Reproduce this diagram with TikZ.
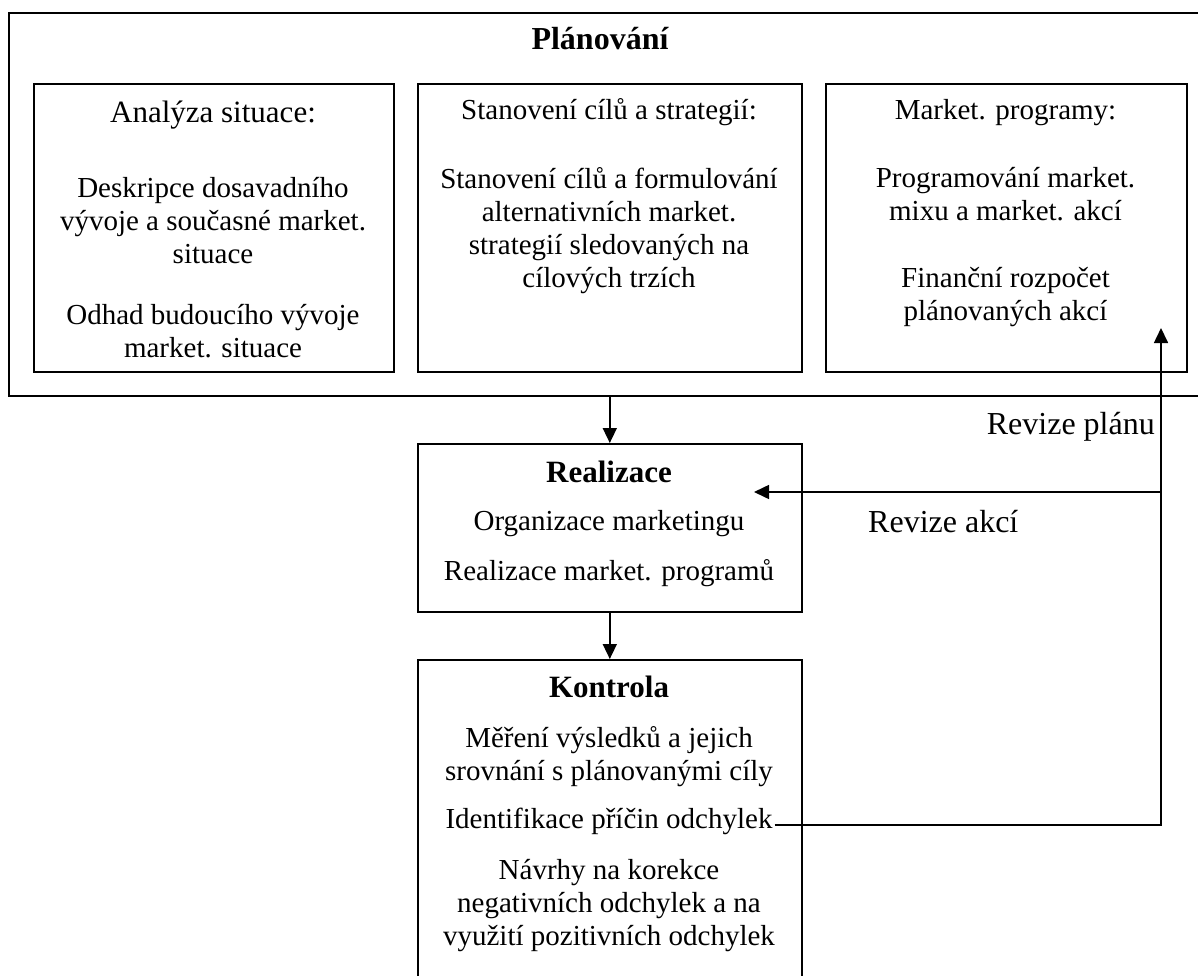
\documentclass[tikz,border=0pt]{standalone}
\usepackage{fontspec}
\setmainfont{Liberation Serif}
\usetikzlibrary{arrows.meta, positioning, calc}

\begin{document}
\begin{tikzpicture}[x=1pt, y=-1pt,
    ramec/.style={draw, line width=1.6pt, inner sep=0pt, anchor=north west},
    popis/.style={align=center, inner sep=0pt, anchor=north, font=\fontsize{29pt}{33pt}\selectfont},
    hlava/.style={inner sep=0pt, anchor=base, font=\fontsize{29pt}{33pt}\selectfont},
    nadpis/.style={inner sep=0pt, anchor=base, font=\fontsize{31pt}{33pt}\selectfont\bfseries},
    sipka/.style={line width=1.6pt, -{Triangle[length=15pt, width=14pt]}}]
    \useasboundingbox (0,0) rectangle (1198,976);
    \clip (0,0) rectangle (1198,976);

    % Planovani
    \node[ramec, minimum width=1202pt, minimum height=383pt] (plan) at (8,12) {};
    \node[nadpis, font=\fontsize{32pt}{33pt}\selectfont\bfseries] (plantit) at (600,50) {Plánování};

    % Analyza situace
    \node[ramec, minimum width=360pt, minimum height=288pt] (analyza) at (33,83) {};
    \node[hlava, font=\fontsize{31pt}{33pt}\selectfont] (analyzatit) at (213,123) {Analýza situace:};
    \node[popis] (deskripce) at (213,177) {Deskripce dosavadního\\vývoje a současné market.\\situace};
    \node[popis] (odhad) at (213,304) {Odhad budoucího vývoje\\market. situace};

    % Cile a strategie
    \node[ramec, minimum width=384pt, minimum height=288pt] (cile) at (417,83) {};
    \node[hlava] (ciletit) at (609,120) {Stanovení cílů a strategií:};
    \node[popis] (formulovani) at (609,167) {Stanovení cílů a formulování\\alternativních market.\\strategií sledovaných na\\cílových trzích};

    % Market. programy
    \node[ramec, minimum width=361pt, minimum height=288pt] (programy) at (825,83) {};
    \node[hlava] (programytit) at (1005.5,120) {Market. programy:};
    \node[popis] (programovani) at (1005.5,167) {Programování market.\\mixu a market. akcí};
    \node[popis] (rozpocet) at (1005.5,267) {Finanční rozpočet\\plánovaných akcí};

    % Realizace
    \node[ramec, minimum width=384pt, minimum height=168pt] (realizace) at (417,443) {};
    \node[nadpis] (realizacetit) at (609,482) {Realizace};
    \node[hlava] (organizace) at (609,530) {Organizace marketingu};
    \node[hlava] (realprog) at (609,580) {Realizace market. programů};

    % Kontrola
    \node[ramec, minimum width=384pt, minimum height=350pt] (kontrola) at (417,659) {};
    \node[nadpis] (kontrolatit) at (609,697) {Kontrola};
    \node[popis] (mereni) at (609,726) {Měření výsledků a jejich\\srovnání s plánovanými cíly};
    \node[hlava] (identifikace) at (609,828) {Identifikace příčin odchylek};
    \node[popis] (navrhy) at (609,859) {Návrhy na korekce\\negativních odchylek a na\\využití pozitivních odchylek};

    % Revize
    \node[hlava, anchor=base east, font=\fontsize{32pt}{33pt}\selectfont] (revizeplanu) at (1155,434) {Revize plánu};
    \node[hlava, anchor=base west, font=\fontsize{32pt}{33pt}\selectfont] (revizeakci) at (868,532) {Revize akcí};

    % Sipky
    \coordinate (odchylky) at ([xshift=2pt, yshift=3pt]identifikace.base east);
    \coordinate (rozcesti) at (1161,492);
    \coordinate (hrotreal) at (754,492);
    \coordinate (hrotplan) at (1161,328);
    \draw[sipka] (realizace.north |- plan.south) -- (realizace.north);
    \draw[sipka] (realizace.south) -- (kontrola.north);
    \draw[sipka] (odchylky) -| (hrotplan);
    \draw[sipka] (rozcesti) -- (hrotreal);
\end{tikzpicture}
\end{document}
